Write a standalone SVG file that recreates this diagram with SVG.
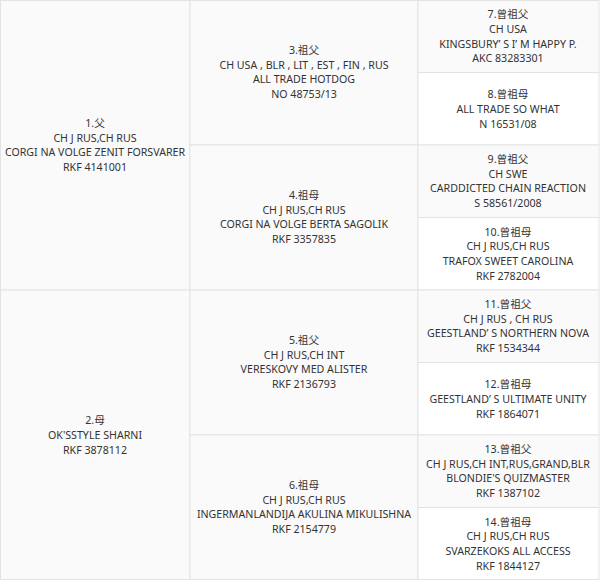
<svg xmlns="http://www.w3.org/2000/svg" width="600" height="580" viewBox="0 0 600 580">
<style>
.cell{stroke:#e3e3e3;stroke-width:1}
.a{fill:#fafafa}
.b{fill:#ffffff}
text{font-family:"Noto Sans","Noto Sans CJK SC",sans-serif;font-size:10.65px;fill:#333333;text-anchor:middle}
</style>
<rect x="0" y="0" width="600" height="580" fill="#ffffff"/>
<g id="n1"><rect class="cell a" x="0.5" y="0.5" width="189.5" height="289.5"/>
<text><tspan x="95" y="127">1.父</tspan><tspan x="95" y="142">CH J RUS,CH RUS</tspan><tspan x="95" y="156">CORGI NA VOLGE ZENIT FORSVARER</tspan><tspan x="95" y="171">RKF 4141001</tspan></text></g>
<g id="n2"><rect class="cell a" x="0.5" y="290" width="189.5" height="289.5"/>
<text><tspan x="95" y="424">2.母</tspan><tspan x="95" y="439">OK'SSTYLE SHARNI</tspan><tspan x="95" y="454">RKF 3878112</tspan></text></g>
<g id="n3"><rect class="cell a" x="190" y="0.5" width="228" height="144.5"/>
<text><tspan x="304" y="54">3.祖父</tspan><tspan x="304" y="69">CH USA , BLR , LIT , EST , FIN , RUS</tspan><tspan x="304" y="83">ALL TRADE HOTDOG</tspan><tspan x="304" y="98">NO 48753/13</tspan></text></g>
<g id="n4"><rect class="cell a" x="190" y="145" width="228" height="145"/>
<text><tspan x="304" y="199">4.祖母</tspan><tspan x="304" y="214">CH J RUS,CH RUS</tspan><tspan x="304" y="228">CORGI NA VOLGE BERTA SAGOLIK</tspan><tspan x="304" y="243">RKF 3357835</tspan></text></g>
<g id="n5"><rect class="cell a" x="190" y="290" width="228" height="145"/>
<text><tspan x="304" y="344">5.祖父</tspan><tspan x="304" y="359">CH J RUS,CH INT</tspan><tspan x="304" y="373">VERESKOVY MED ALISTER</tspan><tspan x="304" y="388">RKF 2136793</tspan></text></g>
<g id="n6"><rect class="cell a" x="190" y="435" width="228" height="144.5"/>
<text><tspan x="304" y="489">6.祖母</tspan><tspan x="304" y="504">CH J RUS,CH RUS</tspan><tspan x="304" y="518">INGERMANLANDIJA AKULINA MIKULISHNA</tspan><tspan x="304" y="533">RKF 2154779</tspan></text></g>
<g id="n7"><rect class="cell a" x="418" y="0.5" width="181" height="72"/>
<text><tspan x="508" y="18">7.曾祖父</tspan><tspan x="508" y="33">CH USA</tspan><tspan x="508" y="48">KINGSBURY’ S I’ M HAPPY P.</tspan><tspan x="508" y="62">AKC 83283301</tspan></text></g>
<g id="n8"><rect class="cell b" x="418" y="72.5" width="181" height="72.5"/>
<text><tspan x="508" y="98">8.曾祖母</tspan><tspan x="508" y="113">ALL TRADE SO WHAT</tspan><tspan x="508" y="128">N 16531/08</tspan></text></g>
<g id="n9"><rect class="cell a" x="418" y="145" width="181" height="72.5"/>
<text><tspan x="508" y="163">9.曾祖父</tspan><tspan x="508" y="178">CH SWE</tspan><tspan x="508" y="192">CARDDICTED CHAIN REACTION</tspan><tspan x="508" y="207">S 58561/2008</tspan></text></g>
<g id="n10"><rect class="cell b" x="418" y="217.5" width="181" height="72.5"/>
<text><tspan x="508" y="236">10.曾祖母</tspan><tspan x="508" y="250">CH J RUS,CH RUS</tspan><tspan x="508" y="265">TRAFOX SWEET CAROLINA</tspan><tspan x="508" y="280">RKF 2782004</tspan></text></g>
<g id="n11"><rect class="cell a" x="418" y="290" width="181" height="72.5"/>
<text><tspan x="508" y="308">11.曾祖父</tspan><tspan x="508" y="323">CH J RUS , CH RUS</tspan><tspan x="508" y="337">GEESTLAND’ S NORTHERN NOVA</tspan><tspan x="508" y="352">RKF 1534344</tspan></text></g>
<g id="n12"><rect class="cell b" x="418" y="362.5" width="181" height="72.5"/>
<text><tspan x="508" y="388">12.曾祖母</tspan><tspan x="508" y="403">GEESTLAND’ S ULTIMATE UNITY</tspan><tspan x="508" y="418">RKF 1864071</tspan></text></g>
<g id="n13"><rect class="cell a" x="418" y="435" width="181" height="72.5"/>
<text><tspan x="508" y="453">13.曾祖父</tspan><tspan x="508" y="468">CH J RUS,CH INT,RUS,GRAND,BLR</tspan><tspan x="508" y="482">BLONDIE'S QUIZMASTER</tspan><tspan x="508" y="497">RKF 1387102</tspan></text></g>
<g id="n14"><rect class="cell b" x="418" y="507.5" width="181" height="72"/>
<text><tspan x="508" y="526">14.曾祖母</tspan><tspan x="508" y="540">CH J RUS,CH RUS</tspan><tspan x="508" y="555">SVARZEKOKS ALL ACCESS</tspan><tspan x="508" y="570">RKF 1844127</tspan></text></g>
<g id="connectors"></g>
</svg>
